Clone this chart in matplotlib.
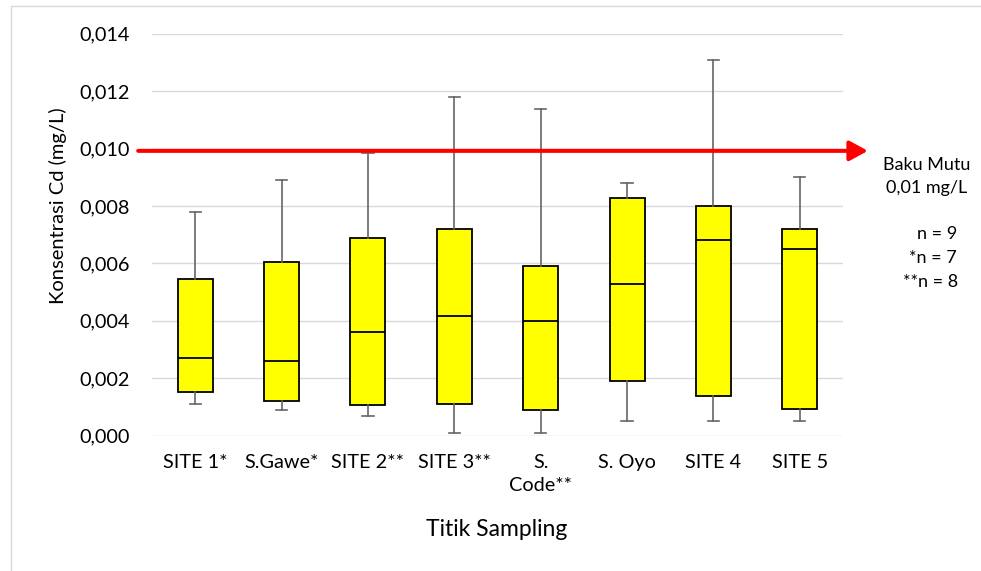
import matplotlib
matplotlib.use("Agg")
import matplotlib.pyplot as plt
from matplotlib.lines import Line2D
import matplotlib.transforms as mtransforms

plt.rcParams['font.family'] = ['Lato', 'DejaVu Sans']

categories = ["SITE 1*", "S.Gawe*", "SITE 2**", "SITE 3**", "S.\nCode**", "S. Oyo", "SITE 4", "SITE 5"]
whisker_low = [0.00110, 0.00091, 0.00070, 0.00010, 0.00010, 0.00051, 0.00051, 0.00052]
q1 = [0.00151, 0.00121, 0.00108, 0.00110, 0.00088, 0.00192, 0.00139, 0.00093]
median = [0.00270, 0.00261, 0.00360, 0.00417, 0.00400, 0.00529, 0.00680, 0.00651]
q3 = [0.00546, 0.00605, 0.00687, 0.00721, 0.00590, 0.00829, 0.00799, 0.00720]
whisker_high = [0.00779, 0.00889, 0.00986, 0.01180, 0.01139, 0.00880, 0.01310, 0.00900]
baku_mutu = 0.00992
yticks = [0.000, 0.002, 0.004, 0.006, 0.008, 0.010, 0.012, 0.014]
ytick_labels = ["0,000", "0,002", "0,004", "0,006", "0,008", "0,010", "0,012", "0,014"]

W, H = 981, 571
fig = plt.figure(figsize=(W / 100, H / 100), dpi=100)
ax = fig.add_axes([152 / W, 1 - 435.7 / H, (843 - 152) / W, (435.7 - 33.7) / H])

stats = []
for i in range(len(categories)):
    stats.append(dict(whislo=whisker_low[i], q1=q1[i], med=median[i],
                      q3=q3[i], whishi=whisker_high[i], fliers=[], label=categories[i]))

positions = list(range(len(categories)))
ax.bxp(stats, positions=positions, widths=0.405, patch_artist=True, showfliers=False,
       boxprops=dict(facecolor='#ffff00', edgecolor='black', linewidth=1.3),
       medianprops=dict(color='black', linewidth=1.3),
       whiskerprops=dict(color='#666666', linewidth=1.2),
       capprops=dict(color='#666666', linewidth=1.2),
       capwidths=0.13, zorder=3)

ax.set_xlim(-0.5, len(categories) - 0.5)
ax.set_ylim(0, 0.014)
ax.set_yticks(yticks)
ax.set_yticklabels(ytick_labels)
ax.set_xticks(positions)
ax.set_xticklabels(categories)
for lbl in ax.get_xticklabels():
    lbl.set_linespacing(1.45)
ax.tick_params(axis='both', length=0, labelsize=14.3, colors='black')
ax.tick_params(axis='y', pad=16)
ax.tick_params(axis='x', pad=13)
ax.yaxis.grid(True, color='#d9d9d9', linewidth=1.0, zorder=0)
ax.set_axisbelow(True)
for s in ax.spines.values():
    s.set_visible(False)

# Baku mutu arrow
trans = mtransforms.blended_transform_factory(ax.transAxes, ax.transData)
ax.annotate("", xy=(1.036, baku_mutu), xycoords=trans,
            xytext=(-0.02, baku_mutu), textcoords=trans,
            arrowprops=dict(arrowstyle='-|>,head_length=0.55,head_width=0.3',
                            color='#ff0000', lw=2.9, shrinkA=0, shrinkB=0,
                            mutation_scale=20),
            annotation_clip=False, zorder=4)

def fx(x):
    return x / W

def fy(y):
    return 1 - y / H

fig.text(fx(58), fy(206), "Konsentrasi Cd (mg/L)", rotation=90, ha='center', va='center', fontsize=14.5)
fig.text(fx(497), fy(529), "Titik Sampling", ha='center', va='center', fontsize=16.5)
fig.text(fx(927), fy(165), "Baku Mutu", ha='center', va='center', fontsize=13)
fig.text(fx(927), fy(188), "0,01 mg/L", ha='center', va='center', fontsize=13)
fig.text(fx(957), fy(234), "n = 9", ha='right', va='center', fontsize=13)
fig.text(fx(957), fy(258), "*n = 7", ha='right', va='center', fontsize=13)
fig.text(fx(958), fy(282), "**n = 8", ha='right', va='center', fontsize=13)

# outer border (left and top edges)
fig.add_artist(Line2D([fx(11), fx(11), fx(981)], [fy(571), fy(6), fy(6)],
                      transform=fig.transFigure, color='#d9d9d9', linewidth=1.0))

fig.savefig("out.png", dpi=100)
